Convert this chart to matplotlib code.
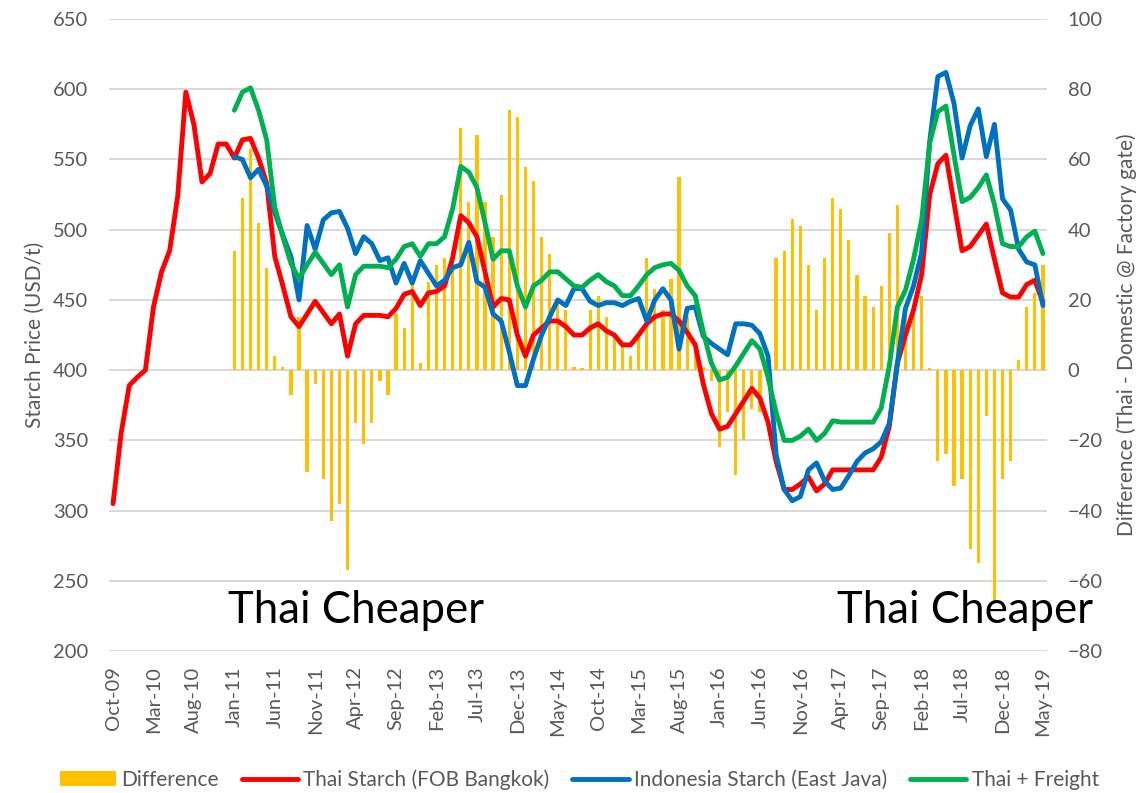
import matplotlib.pyplot as plt
import numpy as np
import pandas as pd

plt.rcParams['font.family'] = ['Lato', 'DejaVu Sans']

# monthly categories Oct-09 .. May-19
months = pd.date_range('2009-10-01', '2019-05-01', freq='MS').strftime('%b-%y').tolist()

# Thai Starch (FOB Bangkok), USD/t, from Oct-09
thai = [305, 355, 389, 395, 400, 445, 470, 485, 524, 598,
        575, 534, 540, 561, 561, 551, 564, 565, 551, 533,
        481, 460, 438, 431, 440, 449, 441, 433, 440, 410,
        433, 439, 439, 439, 438, 444, 454, 456, 446, 455,
        456, 460, 480, 510, 505, 495, 470, 445, 451, 450,
        425, 410, 425, 430, 435, 435, 431, 425, 425, 430,
        433, 428, 425, 418, 418, 425, 433, 438, 440, 440,
        435, 427, 418, 390, 369, 358, 360, 369, 378, 387,
        380, 363, 335, 315, 315, 319, 324, 314, 319, 329,
        329, 329, 329, 329, 329, 338, 360, 405, 425, 443,
        468, 525, 547, 553, 519, 485, 488, 496, 504, 479,
        455, 452, 452, 461, 464, 448]

# the other series start in Jan-11
start = 15
indo = [552, 550, 537, 543, 531,
        512, 496, 481, 450, 503, 486, 507, 512, 513, 501,
        483, 495, 490, 478, 480, 462, 476, 462, 478, 469,
        460, 464, 473, 475, 491, 463, 459, 440, 435, 413,
        389, 389, 408, 425, 438, 450, 446, 458, 458, 449,
        446, 448, 448, 446, 449, 451, 435, 450, 458, 450,
        415, 444, 445, 424, 419, 415, 411, 433, 433, 432,
        426, 410, 340, 315, 307, 310, 329, 334, 321, 315,
        316, 325, 335, 341, 344, 349, 362, 405, 444, 460,
        484, 563, 609, 612, 590, 551, 574, 586, 552, 575,
        522, 514, 486, 477, 475, 446]

freight = [585, 598, 601, 585, 564,
           516, 495, 476, 465, 475, 484, 476, 468, 475, 445,
           468, 474, 474, 474, 473, 479, 488, 490, 481, 490,
           490, 495, 515, 545, 541, 530, 505, 479, 485, 485,
           460, 445, 460, 464, 470, 470, 465, 460, 459, 464,
           468, 463, 460, 453, 453, 460, 468, 473, 475, 476,
           471, 460, 453, 427, 405, 393, 395, 403, 412, 421,
           415, 395, 370, 350, 350, 353, 358, 350, 355, 364,
           363, 363, 363, 363, 363, 373, 403, 445, 457, 479,
           507, 562, 584, 588, 553, 520, 523, 530, 539, 518,
           490, 488, 488, 495, 499, 483]

# Thai - Domestic @ Factory gate
diff = [34, 49, 63, 42, 29,
        4, 1, -7, 15, -29, -4, -31, -43, -38, -57,
        -15, -21, -15, -3, -7, 16, 12, 25, 2, 25,
        30, 32, 34, 69, 48, 67, 48, 38, 50, 74,
        72, 58, 54, 38, 33, 19, 17, 1, 0.5, 17,
        21, 15, 10, 7, 4, 10, 32, 23, 17, 26,
        55, 15, 8, 1, -3, -22, -12, -30, -20, -11,
        -12, -3, 32, 34, 43, 41, 30, 17, 32, 49,
        46, 37, 27, 21, 18, 24, 39, 47, 15, 18,
        21, 0.5, -26, -24, -33, -31, -51, -55, -13, -66,
        -31, -26, 3, 18, 22, 30]

grey = '#595959'
x = np.arange(len(months))
x2 = x[start:]

fig = plt.figure(figsize=(11.45, 7.93), dpi=100)
ax = fig.add_axes([0.0952, 0.179, 0.8192, 0.797])
ax2 = ax.twinx()
# bars on the secondary axis, lines drawn above them
ax.set_zorder(ax2.get_zorder() + 1)
ax.patch.set_visible(False)

ax2.bar(x2, diff, width=0.4, color='#FFC000', label='Difference')
ax2.set_ylim(-80, 100)
ax2.set_yticks(np.arange(-80, 101, 20))
ax2.grid(axis='y', color='#d9d9d9', lw=1.4)
ax2.set_axisbelow(True)

l1, = ax.plot(x, thai, color='#FF0000', lw=3.5, solid_joinstyle='round',
              solid_capstyle='round', label='Thai Starch (FOB Bangkok)')
l2, = ax.plot(x2, indo, color='#0070C0', lw=3.5, solid_joinstyle='round',
              solid_capstyle='round', label='Indonesia Starch (East Java)')
l3, = ax.plot(x2, freight, color='#00B050', lw=3.5, solid_joinstyle='round',
              solid_capstyle='round', label='Thai + Freight')

ax.set_ylim(200, 650)
ax.set_yticks(np.arange(200, 651, 50))
ax.set_xlim(-0.5, len(months) - 0.5)
ax.set_xticks(x[::5])
ax.set_xticklabels(months[::5], rotation=90)

for a in (ax, ax2):
    for s in a.spines.values():
        s.set_visible(False)
    a.tick_params(length=0, colors=grey, labelsize=14.5)
ax.tick_params(axis='x', pad=11)
ax.tick_params(axis='y', pad=15)
ax2.tick_params(axis='y', pad=15)

ax.set_ylabel('Starch Price (USD/t)', color=grey, fontsize=15, labelpad=6)
ax2.set_ylabel('Difference (Thai - Domestic @ Factory gate)', color=grey,
               fontsize=15, labelpad=10)

ax.text(30, 229, 'Thai Cheaper', fontsize=31.5, ha='center', va='center', color='black')
ax.text(105.3, 229, 'Thai Cheaper', fontsize=31.5, ha='center', va='center', color='black')

bars = ax2.containers[0]
fig.legend([bars, l1, l2, l3],
           ['Difference', 'Thai Starch (FOB Bangkok)', 'Indonesia Starch (East Java)', 'Thai + Freight'],
           loc='center', bbox_to_anchor=(0.506, 0.017), ncol=4, frameon=False,
           fontsize=15, labelcolor=grey, handlelength=2.7, handletextpad=0.25,
           columnspacing=1.1)

plt.savefig('out.png', dpi=100)
